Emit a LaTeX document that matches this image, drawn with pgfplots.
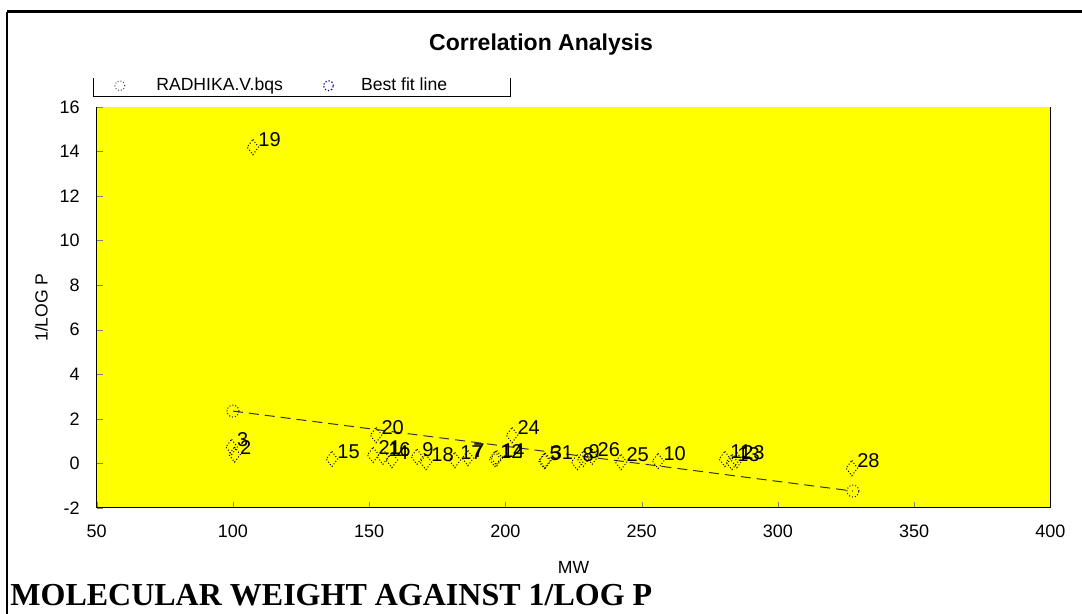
\documentclass[border=0pt]{standalone}
\usepackage{fontspec}
\setmainfont{Liberation Sans}
\newfontfamily\capfont{Liberation Serif}
\usepackage{pgfplots}
\pgfplotsset{compat=1.18}
\definecolor{ybg}{RGB}{255,255,0}

\pgfplotstableread{
x y label
99.5 0.74 3
100.6 0.40 2
107.3 14.2 19
136.3 0.20 15
152.5 1.27 20
151.4 0.38 21
155.0 0.30 16
158.3 0.15 4
167.5 0.30 9
170.8 0.06 18
181.4 0.15 17
186.2 0.24 7
196.1 0.20 12
196.8 0.24 14
202.4 1.27 24
214.2 0.11 5
214.6 0.13 31
226.3 0.06 8
228.5 0.20 9
231.8 0.30 26
242.4 0.06 25
256.0 0.11 10
280.5 0.20 11
283.1 0.06 13
284.9 0.15 23
327.1 -0.21 28
}\pointdata

\begin{document}
\begin{tikzpicture}[x=1pt,y=1pt]
\begin{axis}[
  scale only axis, width=476.875pt, height=200.5pt,
  xmin=50, xmax=400, ymin=-2, ymax=16,
  xtick={50,100,...,400}, ytick={-2,0,...,16},
  tick align=inside, major tick length=3pt,
  axis x line*=bottom, axis y line*=left,
  axis line style={line width=0.5pt},
  axis background/.style={fill=ybg},
  /pgf/number format/assume math mode=true,
  tick label style={font=\fontsize{9}{10}\selectfont},
  xticklabel style={yshift=-5pt},
  yticklabel style={xshift=-5pt},
  xlabel={MW}, ylabel={1/LOG P},
  label style={font=\fontsize{8.8}{10}\selectfont},
  xlabel style={at={(axis description cs:0.5,-0.149)}, anchor=center},
  ylabel style={at={(axis description cs:-0.058,0.5)}, anchor=center},
  legend columns=2,
  legend style={at={(axis description cs:0,1)}, anchor=south west,
    xshift=8.6pt, yshift=6.5pt, draw=none, fill=none, inner sep=0pt,
    nodes={inner sep=0pt, font=\fontsize{8.8}{10}\selectfont},
    /tikz/column 1/.style={column sep=15.5pt},
    /tikz/column 2/.style={column sep=20pt},
    /tikz/column 3/.style={column sep=13.5pt}},
  after end axis/.code={
    \draw[line width=0.5pt] (rel axis cs:1,0) -- (rel axis cs:1,1);
    \coordinate (AO) at (rel axis cs:0,0);},
]
\addplot[only marks, mark=diamond, mark size=3.8pt,
  mark options={densely dotted, black, line width=0.5pt},
  nodes near coords, point meta=explicit symbolic,
  nodes near coords style={anchor=south west, inner sep=1pt, xshift=1.5pt, yshift=-1pt,
    font=\fontsize{10}{11}\selectfont, black},
  legend image code/.code={\draw[densely dotted, black!70, line width=0.5pt] (0,0) circle (2.5pt);}
] table[x=x, y=y, meta=label] {\pointdata};
\addlegendentry{RADHIKA.V.bqs}

\addplot[black!80, line width=0.5pt, dash pattern=on 5pt off 3pt, mark=o, mark size=3pt,
  mark options={solid, densely dotted, blue!55!black},
  legend image code/.code={\draw[densely dotted, blue!70!black, line width=0.6pt] (0,0) circle (2.5pt);}
] coordinates {(100,2.35) (327.5,-1.24)};
\addlegendentry{Best fit line}
\end{axis}

\begin{scope}[shift={(AO)}, xshift=-48.375pt, yshift=254pt]
\pgfresetboundingbox
\useasboundingbox (0,0) rectangle (541,-307);
\draw[line width=1.5pt] (3.5,-6) -- (541,-6);
\draw[line width=0.6pt] (3.5,-6) -- (3.5,-307);
\node[font=\bfseries\fontsize{11.5}{13}\selectfont] at (270.5,-22.5) {Correlation Analysis};
\node[anchor=base west, inner sep=0pt, font=\capfont\bfseries\fontsize{16}{18}\selectfont] at (5,-303) {MOLECULAR WEIGHT AGAINST 1/LOG P};
\draw[line width=0.5pt] (47,-39) -- (47,-48.5) -- (255,-48.5) -- (255,-39);
\end{scope}
\end{tikzpicture}
\end{document}
